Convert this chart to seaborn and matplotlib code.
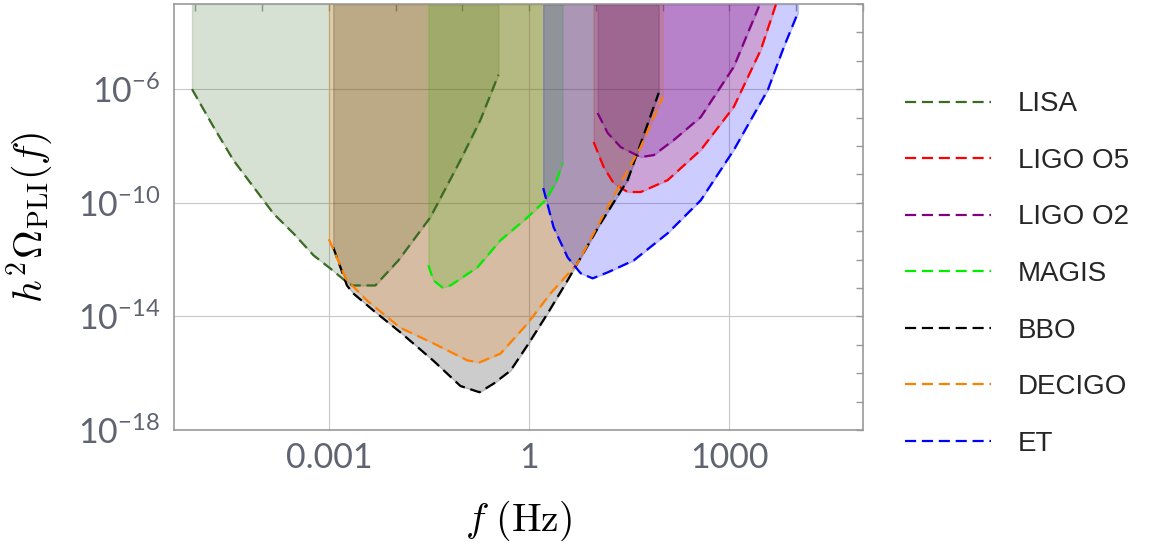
import numpy as np
import pandas as pd
import matplotlib
matplotlib.use("Agg")
import matplotlib.pyplot as plt
from matplotlib.ticker import FixedLocator, LogLocator, NullFormatter
import seaborn as sns

# ---------------- data (log10 of f in Hz, log10 of h^2 Omega_PLI) ----------------
detectors = ["LISA", "LIGO O5", "LIGO O2", "MAGIS", "BBO", "DECIGO", "ET"]
colors = ["#3a6b24", "#ff0000", "#800080", "#00ee00", "#000000", "#ff8000", "#0000ff"]

lisa_logf = [-5.05, -4.73, -4.43, -4.13, -3.83, -3.53, -3.23, -2.98, -2.78, -2.655, -2.305, -1.96, -1.48, -1.03, -0.73, -0.46]
lisa_logo = [-6.00, -7.32, -8.50, -9.44, -10.38, -11.08, -11.85, -12.31, -12.70, -12.91, -12.91, -12.03, -10.51, -8.50, -7.08, -5.49]

ligo5_logf = [0.965, 1.115, 1.265, 1.475, 1.67, 2.075, 2.57, 3.065, 3.47, 3.695]
ligo5_logo = [-7.86, -8.74, -9.31, -9.62, -9.62, -9.20, -8.14, -6.62, -4.61, -3.02]

ligo2_logf = [1.025, 1.175, 1.37, 1.67, 1.865, 2.165, 2.57, 3.065, 3.44]
ligo2_logo = [-6.84, -7.54, -8.04, -8.39, -8.32, -7.79, -6.98, -5.21, -3.09]

magis_logf = [-1.51, -1.435, -1.30, -1.18, -0.775, -0.43, -0.025, 0.245, 0.395, 0.50]
magis_logo = [-12.20, -12.73, -12.98, -12.91, -12.27, -11.32, -10.51, -9.91, -9.31, -8.60]

bbo_logf = [-2.935, -2.73, -2.635, -2.335, -1.93, -1.435, -1.03, -0.745, -0.535, -0.28, -0.01, 0.275, 0.575, 1.07, 1.475, 1.94]
bbo_logo = [-11.57, -12.91, -13.19, -13.79, -14.56, -15.56, -16.45, -16.67, -16.37, -15.91, -14.96, -13.90, -12.73, -10.72, -9.20, -6.13]

decigo_logf = [-3.0, -2.74, -2.43, -1.93, -1.435, -0.925, -0.745, -0.43, -0.025, 0.32, 0.725, 1.37, 1.67, 2.0]
decigo_logo = [-11.28, -12.70, -13.44, -14.40, -14.95, -15.55, -15.62, -15.31, -14.25, -13.19, -12.13, -9.31, -8.04, -6.27]

et_logf = [0.21, 0.365, 0.575, 0.77, 0.95, 1.175, 1.565, 2.075, 2.57, 3.065, 3.575, 3.815, 4.025]
et_logo = [-9.48, -10.86, -11.92, -12.48, -12.66, -12.45, -12.03, -11.07, -9.91, -8.14, -6.02, -4.51, -3.31]

curves_logf = [lisa_logf, ligo5_logf, ligo2_logf, magis_logf, bbo_logf, decigo_logf, et_logf]
curves_logo = [lisa_logo, ligo5_logo, ligo2_logo, magis_logo, bbo_logo, decigo_logo, et_logo]

xtick_values = [1e-3, 1.0, 1e3]
xtick_labels = ["0.001", "1", "1000"]
ytick_values = [1e-18, 1e-14, 1e-10, 1e-6]
ytick_labels = [r"$10^{-18}$", r"$10^{-14}$", r"$10^{-10}$", r"$10^{-6}$"]

# ---------------- style ----------------
sns.set_theme(style="white")
plt.rcParams["font.family"] = ["Lato", "DejaVu Sans"]
plt.rcParams["mathtext.fontset"] = "custom"
plt.rcParams["mathtext.rm"] = "Lato"
plt.rcParams["mathtext.it"] = "Lato:italic"
plt.rcParams["mathtext.bf"] = "Lato:bold"

fig = plt.figure(figsize=(11.51, 5.48), dpi=100)
ax = fig.add_axes([174 / 1151, 1 - 430 / 548, (863 - 174) / 1151, (430 - 4) / 548])
ax.set_xscale("log")
ax.set_yscale("log")
top = 1e-3

dash = (0, (5, 2.6))
for name, c, lf, lo in zip(detectors, colors, curves_logf, curves_logo):
    f = 10.0 ** np.array(lf)
    om = 10.0 ** np.array(lo)
    ax.fill_between(f, om, top, color=c, alpha=0.2, linewidth=1.0, zorder=1)
    df = pd.DataFrame({"f": f, "omega": om})
    sns.lineplot(data=df, x="f", y="omega", ax=ax, color=c, sort=False,
                 estimator=None, linewidth=1.6, linestyle=dash, label=name, zorder=3)

ax.set_xlim(10 ** -5.32, 1e5)
ax.set_ylim(1e-18, top)

ax.xaxis.set_major_locator(FixedLocator(xtick_values))
ax.set_xticklabels(xtick_labels)
ax.yaxis.set_major_locator(FixedLocator(ytick_values))
ax.set_yticklabels(ytick_labels)
ax.xaxis.set_minor_locator(LogLocator(base=10, subs=(1.0,), numticks=30))
ax.yaxis.set_minor_locator(LogLocator(base=10, subs=(1.0,), numticks=30))
ax.xaxis.set_minor_formatter(NullFormatter())
ax.yaxis.set_minor_formatter(NullFormatter())

ax.tick_params(which="both", direction="in", top=True, right=True, length=5,
               width=1.0, color="#999999", labelsize=24.5, labelcolor="#5f6470")
ax.tick_params(axis="y", pad=10)
ax.tick_params(axis="x", pad=9)
ax.grid(True, which="major", color="#c8c8c8", linewidth=0.8)
ax.set_axisbelow(True)
for s in ax.spines.values():
    s.set_color("#999999")
    s.set_linewidth(1.2)

ax.set_xlabel(r"$f\ (\mathrm{Hz})$", fontsize=28.5, math_fontfamily="cm", color="black")
ax.set_ylabel(r"$h^2\Omega_{\mathrm{PLI}}(f)$", fontsize=28.5, math_fontfamily="cm", color="black")
ax.xaxis.set_label_coords(0.5, -0.16)
ax.yaxis.set_label_coords(-0.172, 0.5)

leg = ax.legend(loc="center left", bbox_to_anchor=(905 / 1151, 1 - 274 / 548),
                bbox_transform=fig.transFigure, frameon=False, borderaxespad=0, borderpad=0,
                prop={"family": "Liberation Sans", "size": 20}, handlelength=3.1,
                handletextpad=0.95, labelspacing=1.1)

fig.savefig("out.png", dpi=100)
